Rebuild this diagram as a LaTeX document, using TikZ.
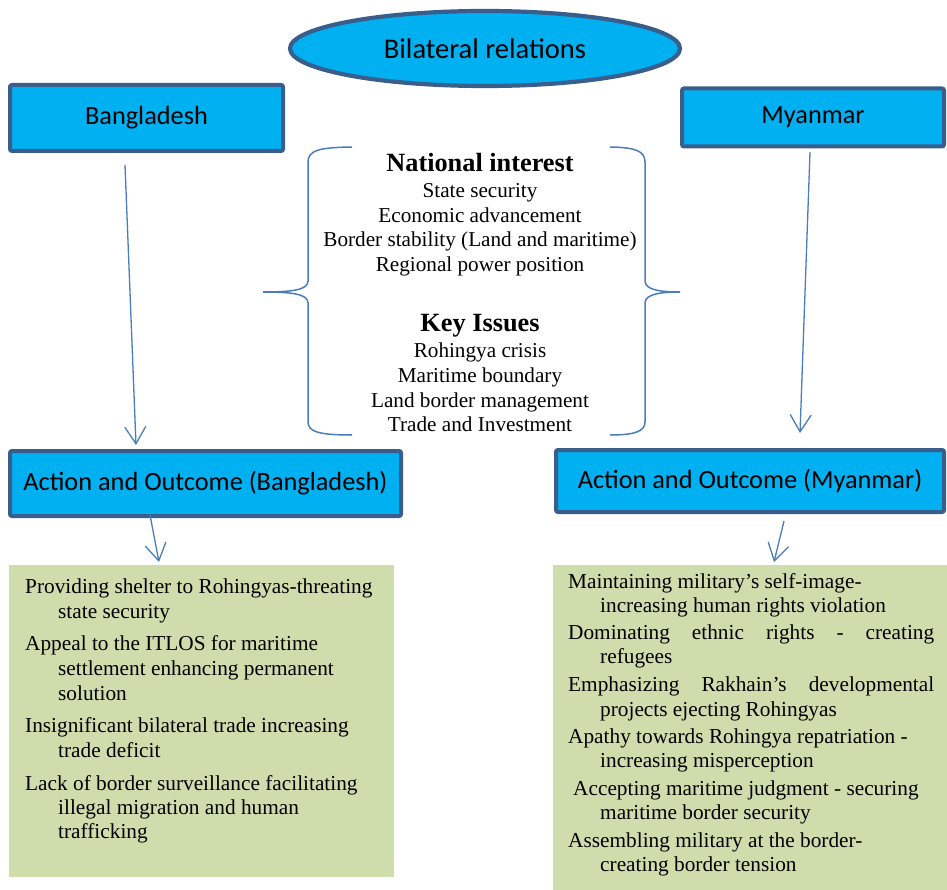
\documentclass[tikz,border=0pt]{standalone}
\usepackage{fontspec}
\setmainfont{Liberation Serif}
\newfontfamily\calib{Carlito}
\usetikzlibrary{shapes.geometric,arrows.meta}
\definecolor{boxfill}{HTML}{00B0F0}
\definecolor{boxline}{HTML}{3A5E8C}
\definecolor{conn}{HTML}{4A7EBB}
\definecolor{greenfill}{RGB}{207,221,173}
\begin{document}
\begin{tikzpicture}[x=1pt,y=-1pt,
  bluebox/.style={draw=boxline,line width=4pt,fill=boxfill,rounded corners=2pt,inner sep=0pt,
    font=\calib\fontsize{26.3}{30}\selectfont},
  oval/.style={ellipse,draw=boxline,line width=4.2pt,fill=boxfill,inner sep=0pt,
    font=\calib\fontsize{28.5}{32}\selectfont},
  greenbox/.style={fill=greenfill,inner sep=0pt,anchor=north west},
  arr/.style={draw=conn,line width=1.3pt,-{Straight Barb[length=17pt,width=21pt,line width=1.3pt]}},
  brace/.style={draw=conn,line width=1.5pt},
  tx/.style={anchor=base west,inner sep=0pt,font=\fontsize{21.3}{24}\selectfont},
  ctx/.style={anchor=base,inner sep=0pt,font=\fontsize{21.2}{24}\selectfont},
  hd/.style={anchor=base,inner sep=0pt,font=\bfseries\fontsize{26.3}{30}\selectfont}
]
\useasboundingbox (0,0) rectangle (947,890);

% top oval and boxes
\node[oval,minimum width=390pt,minimum height=75pt] (bil) at (485,48.5) {Bilateral relations};
\node[bluebox,minimum width=273pt,minimum height=66pt] (bd) at (146.5,118) {Bangladesh};
\node[bluebox,minimum width=262pt,minimum height=58pt] (mm) at (813,117.5) {Myanmar};
\node[bluebox,minimum width=391pt,minimum height=65pt] (bda) at (205.5,483.5) {Action and Outcome (Bangladesh)};
\node[bluebox,minimum width=388pt,minimum height=62pt] (mma) at (750,481) {Action and Outcome (Myanmar)};

% green boxes
\node[greenbox,minimum width=385pt,minimum height=312pt] (bdg) at (9,565) {};
\node[greenbox,minimum width=394pt,minimum height=325pt] (mmg) at (553,565) {};

% connectors
\coordinate (a1s) at (125,165);
\coordinate (a1e) at (136,445);
\coordinate (a2s) at (810,152);
\coordinate (a2e) at (800,433);
\coordinate (a3s) at (150,515);
\coordinate (a3e) at (159,562);
\coordinate (a4s) at (784,521);
\coordinate (a4e) at (774,562);
\draw[arr] (a1s) -- (a1e);
\draw[arr] (a2s) -- (a2e);
\draw[arr] (a3s) -- (a3e);
\draw[arr] (a4s) -- (a4e);

% braces
\draw[brace] (352,147) .. controls (320,147.5) and (308,150) .. (308,162) -- (308,281)
  .. controls (308,290) and (292,292) .. (263,292)
  .. controls (292,292) and (308,294) .. (308,303) -- (308,422)
  .. controls (308,432) and (320,435) .. (352,435);
\draw[brace] (610,147) .. controls (633,147.5) and (645,150) .. (645,162) -- (645,281)
  .. controls (645,290) and (661,292) .. (680,292)
  .. controls (661,292) and (645,294) .. (645,303) -- (645,422)
  .. controls (645,432) and (633,435) .. (610,435);

% central text
\node[hd] (ni) at (480,172) {National interest};
\node[ctx] (c1) at (480,198) {State security};
\node[ctx] (c2) at (480,223) {Economic advancement};
\node[ctx] (c3) at (480,247) {Border stability (Land and maritime)};
\node[ctx] (c4) at (480,272) {Regional power position};
\node[hd] (ki) at (480,331) {Key Issues};
\node[ctx] (k1) at (480,357) {Rohingya crisis};
\node[ctx] (k2) at (480,382) {Maritime boundary};
\node[ctx] (k3) at (480,407) {Land border management};
\node[ctx] (k4) at (480,431) {Trade and Investment};

% Bangladesh outcomes
\node[tx] (b1) at (25,593) {Providing shelter to Rohingyas-threating};
\node[tx] (b2) at (58,618) {state security};
\node[tx] (b3) at (25,650) {Appeal to the ITLOS for maritime};
\node[tx] (b4) at (58,675) {settlement enhancing permanent};
\node[tx] (b5) at (58,700) {solution};
\node[tx] (b6) at (25,732) {Insignificant bilateral trade increasing};
\node[tx] (b7) at (58,757) {trade deficit};
\node[tx] (b8) at (25,790) {Lack of border surveillance facilitating};
\node[tx] (b9) at (58,814) {illegal migration and human};
\node[tx] (b10) at (58,838) {trafficking};

% Myanmar outcomes
\node[tx] (m1) at (568,588) {Maintaining military’s self-image-};
\node[tx] (m2) at (600,612) {increasing human rights violation};
\node[tx] (m3) at (568,639) {\makebox[366pt][s]{Dominating ethnic rights - creating}};
\node[tx] (m4) at (600,663) {refugees};
\node[tx] (m5) at (568,691) {\makebox[366pt][s]{Emphasizing Rakhain’s developmental}};
\node[tx] (m6) at (600,716) {projects ejecting Rohingyas};
\node[tx] (m7) at (568,743) {Apathy towards Rohingya repatriation -};
\node[tx] (m8) at (600,767) {increasing misperception};
\node[tx] (m9) at (573,795) {Accepting maritime judgment - securing};
\node[tx] (m10) at (600,819) {maritime border security};
\node[tx] (m11) at (568,847) {Assembling military at the border-};
\node[tx] (m12) at (600,871) {creating border tension};
\end{tikzpicture}
\end{document}
